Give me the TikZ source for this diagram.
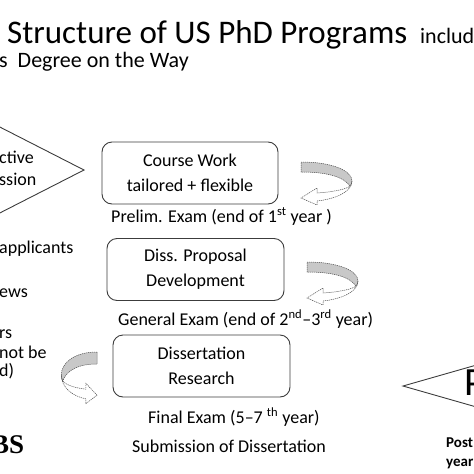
\documentclass[tikz,border=0pt]{standalone}
\usepackage{fontspec}
\setmainfont{Carlito}
\newfontfamily\serifbs{Liberation Serif}
\definecolor{lineagris}{RGB}{60,60,60}
\definecolor{sombra}{RGB}{200,200,200}
\usetikzlibrary{positioning}

\tikzset{
  stagebox/.style={draw=lineagris, line width=0.9pt, rounded corners=10pt,
    minimum width=177pt, minimum height=62pt, inner sep=0pt,
    align=center, font=\fontsize{18}{25}\selectfont},
  plaintext/.style={anchor=base west, inner sep=0pt, font=\fontsize{18}{20}\selectfont},
  turnback/.style={gray!60!black, line width=0.5pt, dash pattern=on 1.2pt off 0.8pt},
}

% flecha en U (origen en la cola, y hacia abajo)
\newcommand{\uturnarrow}{%
  \filldraw[turnback, fill=sombra] (0,0) .. controls (32,0) and (51,9) .. (51,19)
    .. controls (51,21) and (50,23) .. (49,24)
    .. controls (42,14) and (24,10) .. (0,10) -- cycle;
  \filldraw[turnback, fill=white] (51,19) .. controls (51,30) and (34,37) .. (16,39)
    -- (16,43) -- (0,36) -- (16,26) -- (16,31)
    .. controls (32,30) and (46,27) .. (49,24) .. controls (50,23) and (51,21) .. (51,19);
}

\begin{document}
\begin{tikzpicture}[x=1pt, y=-1pt]

    \useasboundingbox (0,0) rectangle (474,474);

    % TITULO
    \node[plaintext, font=\fontsize{33}{36}\selectfont] (title) at (7,43) {Structure of US PhD Programs};
    \node[plaintext, font=\fontsize{22}{24}\selectfont] (titlerest) at (420,43) {includ};
    \node[plaintext, font=\fontsize{22}{24}\selectfont] (subtitle) at (-1,67) {s\ \ Degree on the Way};

    % ADMISION
    \draw[lineagris, line width=0.9pt] (-10,122) -- (84,170) -- (-10,218);
    \node[plaintext] (adm1) at (-1,163) {ctive};
    \node[plaintext] (adm2) at (-1,185) {ssion};

    \node[plaintext] (left1) at (-1,253) {applicants};
    \node[plaintext] (left2) at (-1,297) {ews};
    \node[plaintext] (left3) at (-1,338) {rs};
    \node[plaintext] (left4) at (-1,358) {not be};
    \node[plaintext] (left5) at (-1,376) {d)};
    \node[anchor=base west, inner sep=0pt, font=\serifbs\bfseries\fontsize{27}{29}\selectfont] (bs) at (-9,453) {BS};

    % ETAPAS
    \node[stagebox, minimum width=176pt] (course) at (190,173) {Course Work\\tailored + flexible};
    \node[plaintext] (exam1) at (111,222) {Prelim. Exam (end of 1\textsuperscript{st} year )};

    \node[stagebox] (proposal) at (195.5,269.5) {Diss. Proposal\\Development};
    \node[plaintext] (exam2) at (118,325) {General Exam (end of 2\textsuperscript{nd}--3\textsuperscript{rd} year)};

    \node[stagebox] (research) at (201.5,366) {Dissertation\\Research};
    \node[plaintext] (exam3) at (148,423) {Final Exam (5--7 \textsuperscript{th} year)};
    \node[plaintext] (submit) at (132,452) {Submission of Dissertation};

    % FLECHAS DE REPASO
    \begin{scope}[shift={(301,162)}]
      \uturnarrow
    \end{scope}
    \begin{scope}[shift={(307,262)}]
      \uturnarrow
    \end{scope}
    \begin{scope}[shift={(97,352)}, xscale=-0.7, yscale=1.2]
      \uturnarrow
    \end{scope}

    % POSTDOC
    \draw[lineagris, line width=0.9pt] (480,364) -- (403,386) -- (480,408);
    \node[plaintext, font=\fontsize{40}{42}\selectfont] (phd) at (464,395) {P};
    \node[plaintext, font=\bfseries\fontsize{15}{17}\selectfont] (post1) at (446,447) {Post};
    \node[plaintext, font=\bfseries\fontsize{15}{17}\selectfont] (post2) at (446,466) {year};

\end{tikzpicture}
\end{document}
